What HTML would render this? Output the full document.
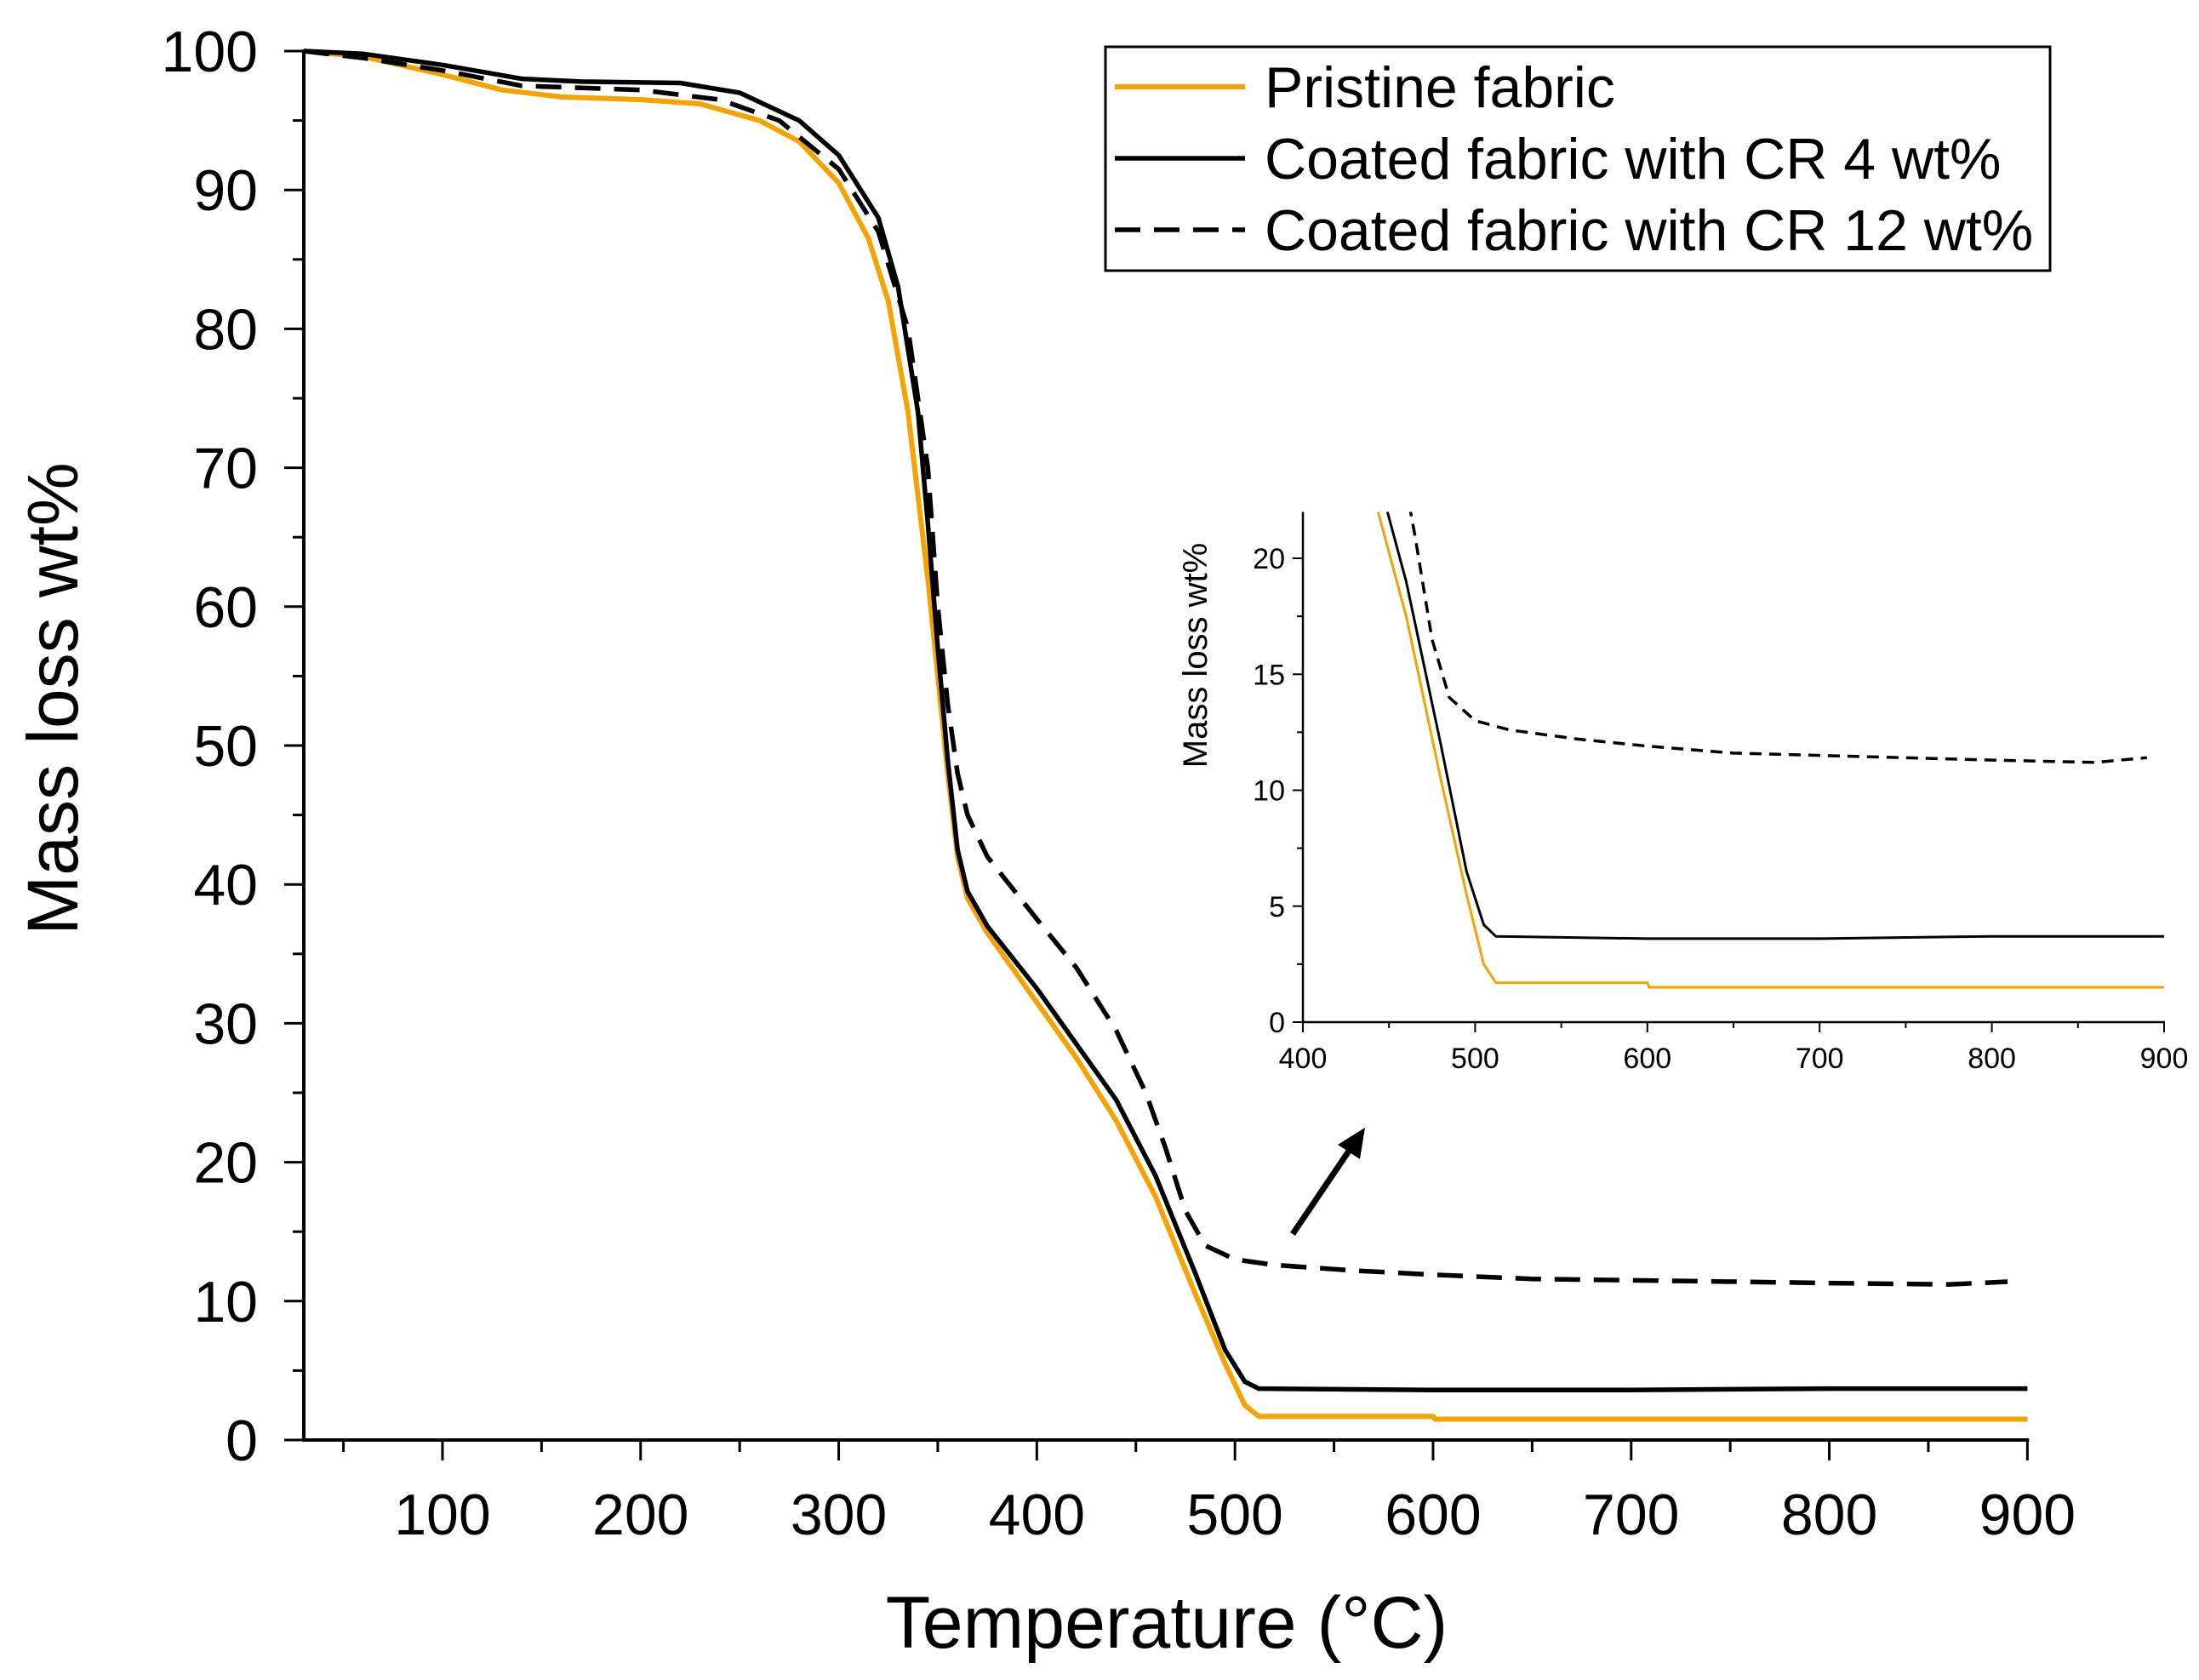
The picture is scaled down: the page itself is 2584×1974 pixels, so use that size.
<!DOCTYPE html>
<html><head><meta charset="utf-8"><style>
html,body{margin:0;padding:0;background:#fff;}
svg{display:block;font-family:"Liberation Sans",Arial,sans-serif;}
</style></head><body>
<svg id="chart" width="2584" height="1974" viewBox="0 0 2584 1974" xmlns="http://www.w3.org/2000/svg">
<g id="main"></g>
<g id="inset"></g>
<g id="legend"></g>
</svg>
<script>
const seriesNames = ["Pristine fabric","Coated fabric with CR 4 wt%","Coated fabric with CR 12 wt%"];
const pristineT = [30,60,100,130,160,200,230,260,280,300,315,325,335,345,350,355,360,365,375,400,420,440,460,480,495,505,512,600,601,900];
const pristineV = [100,99.6,98.3,97.2,96.7,96.5,96.2,95,93.5,90.5,86.5,82,74,62,55,48,42,39,36.5,31.5,27.5,23,17.5,10.5,5.5,2.5,1.7,1.7,1.5,1.5];
const cr4T = [30,60,100,140,170,220,250,280,300,320,330,340,345,350,355,360,365,375,400,420,440,460,480,495,505,512,600,700,800,900];
const cr4V = [100,99.8,99,98,97.8,97.7,97,95,92.5,88,83,74,66,57,49,42.5,39.5,37,32.5,28.5,24.5,19,12,6.5,4.2,3.7,3.6,3.6,3.7,3.7];
const cr12T = [30,60,100,140,200,240,270,300,320,335,345,350,355,360,365,375,400,420,440,455,465,475,485,500,520,560,600,650,700,800,860,890];
const cr12V = [100,99.5,98.6,97.5,97.2,96.5,95,91.5,87,80,70,60,53,48,45,42,37.5,34,29.5,25,21,16.5,14,13,12.6,12.2,11.9,11.6,11.5,11.3,11.2,11.4];
const mainXTicks = [100,200,300,400,500,600,700,800,900];
const mainYTicks = [0,10,20,30,40,50,60,70,80,90,100];
const insetXTicks = [400,500,600,700,800,900];
const insetYTicks = [0,5,10,15,20];

const NS="http://www.w3.org/2000/svg";
function mk(parent,tag,attrs){const e=document.createElementNS(NS,tag);for(const k in attrs)e.setAttribute(k,attrs[k]);parent.appendChild(e);return e;}

const mx=t=>357+(t-30)*2.328;
const my=v=>1692-v*16.32;
const ix=t=>1531+(t-400)*2.024;
const iy=v=>1201-v*27.25;

const main=document.getElementById('main');
const inset=document.getElementById('inset');
const legend=document.getElementById('legend');

function pathD(T,V,fx,fy){let d="";for(let i=0;i<T.length;i++){d+=(i?"L":"M")+fx(T[i]).toFixed(1)+","+fy(V[i]).toFixed(1);}return d;}

const colors=["#f5a300","#000","#000"];
const dataT=[pristineT,cr4T,cr12T], dataV=[pristineV,cr4V,cr12V];
const keys=["pristine","cr4","cr12"];
for(let s=0;s<3;s++){
  const p=mk(main,'path',{d:pathD(dataT[s],dataV[s],mx,my),fill:'none',stroke:colors[s],'stroke-width':s==0?6:5.5,'stroke-linejoin':'round','stroke-dasharray':s==2?'30,16':'none'});
  
  
}
let a=mk(main,'line',{x1:357,y1:my(100)-2,x2:357,y2:1694,stroke:'#000','stroke-width':4});

a=mk(main,'line',{x1:355,y1:1692,x2:mx(900)+2,y2:1692,stroke:'#000','stroke-width':4});

for(let t=50;t<=900;t+=50){
  const major=t%100==0;
  mk(main,'line',{x1:mx(t),y1:1692,x2:mx(t),y2:major?1716:1706,stroke:'#000','stroke-width':3});
}
mainXTicks.forEach(t=>{const e=mk(main,'text',{x:mx(t),y:1803,'font-size':68,'text-anchor':'middle'});e.textContent=t;
  });
for(let v=0;v<=100;v+=5){
  const major=v%10==0;
  mk(main,'line',{x1:major?334:344,y1:my(v),x2:357,y2:my(v),stroke:'#000','stroke-width':3});
}
mainYTicks.forEach(v=>{const e=mk(main,'text',{x:303,y:my(v)+24,'font-size':68,'text-anchor':'end'});e.textContent=v;
  });
let t=mk(main,'text',{x:1371,y:1936,'font-size':86,'text-anchor':'middle'});t.textContent="Temperature (°C)";

t=mk(main,'text',{x:0,y:0,'font-size':84,'text-anchor':'middle',transform:'translate(91,821) rotate(-90)'});t.textContent="Mass loss wt%";


let ar=mk(main,'line',{x1:1519,y1:1450,x2:1590,y2:1345,stroke:'#000','stroke-width':7});

ar=mk(main,'polygon',{points:'1604,1325 1598,1362 1572,1345',fill:'#000'});


const defs=mk(document.getElementById('chart'),'defs',{});
const cp=mk(defs,'clipPath',{id:'insetClip'});
mk(cp,'rect',{x:1531,y:iy(22),width:1020,height:iy(0)-iy(22)});
for(let s=0;s<3;s++){
  const p=mk(inset,'path',{d:pathD(dataT[s],dataV[s],ix,iy),fill:'none',stroke:colors[s],'stroke-width':s==2?3.5:3,'stroke-linejoin':'round','clip-path':'url(#insetClip)','stroke-dasharray':s==2?'14,9':'none'});
  
  
}
a=mk(inset,'line',{x1:1531,y1:iy(22),x2:1531,y2:1202,stroke:'#000','stroke-width':2.5});

a=mk(inset,'line',{x1:1530,y1:1201,x2:ix(900)+1,y2:1201,stroke:'#000','stroke-width':2.5});

for(let tt=400;tt<=900;tt+=50){mk(inset,'line',{x1:ix(tt),y1:1201,x2:ix(tt),y2:tt%100==0?1213:1208,stroke:'#000','stroke-width':2});}
insetXTicks.forEach(tt=>{const e=mk(inset,'text',{x:ix(tt),y:1255,'font-size':34,'text-anchor':'middle'});e.textContent=tt;
  });
for(let v=0;v<=20;v+=2.5){mk(inset,'line',{x1:v%5==0?1519:1524,y1:iy(v),x2:1531,y2:iy(v),stroke:'#000','stroke-width':2});}
insetYTicks.forEach(v=>{const e=mk(inset,'text',{x:1510,y:iy(v)+12,'font-size':34,'text-anchor':'end'});e.textContent=v;
  });
t=mk(inset,'text',{x:0,y:0,'font-size':40,'text-anchor':'middle',transform:'translate(1418,770) rotate(-90)'});t.textContent="Mass loss wt%";


let box=mk(legend,'rect',{x:1299,y:55,width:1110,height:263,fill:'#fff',stroke:'#000','stroke-width':3});

const ly=[102,186,270];
for(let s=0;s<3;s++){
  const g=mk(legend,'g',{});
  
  
  mk(g,'line',{x1:1310,y1:ly[s],x2:1463,y2:ly[s],stroke:colors[s],'stroke-width':s==0?6:5.5,'stroke-dasharray':s==2?'30,16':'none'});
  const e=mk(g,'text',{x:1486,y:ly[s]+24,'font-size':68});e.textContent=seriesNames[s];
}
</script>
</body></html>
